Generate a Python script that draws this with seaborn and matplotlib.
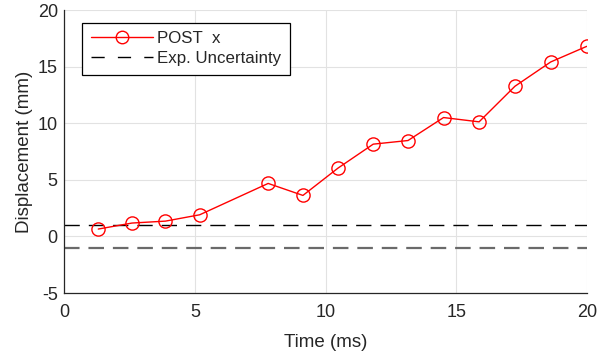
import matplotlib
matplotlib.use("Agg")
import matplotlib.pyplot as plt
from matplotlib.lines import Line2D
import seaborn as sns
import pandas as pd

# Measured displacement over time
time_ms = [1.30, 2.59, 3.87, 5.18, 7.80, 9.13, 10.47, 11.82, 13.15, 14.51, 15.87, 17.24, 18.61, 19.99]
disp_mm = [0.65, 1.18, 1.35, 1.91, 4.68, 3.62, 6.03, 8.15, 8.47, 10.50, 10.12, 13.26, 15.41, 16.79]
uncertainty = 1.0

x_ticks = [0, 5, 10, 15, 20]
y_ticks = [-5, 0, 5, 10, 15, 20]

df = pd.DataFrame({"Time (ms)": time_ms, "Displacement (mm)": disp_mm})

sns.set_theme(style="whitegrid")
plt.rcParams["font.family"] = ["Liberation Sans", "DejaVu Sans"]

fig = plt.figure(figsize=(6.09, 3.60), dpi=100)
ax = fig.add_axes([0.1056, 0.1861, 0.8583, 0.7861])

sns.lineplot(data=df, x="Time (ms)", y="Displacement (mm)", ax=ax,
             color="#ff0000", linewidth=1.0, marker="o", markersize=9.5,
             markerfacecolor="none", markeredgecolor="#ff0000",
             markeredgewidth=1.0, legend=False)

ax.axhline(uncertainty, color="black", linewidth=1.0, dashes=(11, 6.5), zorder=1)
ax.axhline(-uncertainty, color="#6a6a6a", linewidth=1.6, dashes=(7, 4),
           dash_capstyle="butt", zorder=1)

ax.set_xlim(0, 20)
ax.set_ylim(-5, 20)
ax.set_xticks(x_ticks)
ax.set_yticks(y_ticks)
ax.set_xticklabels([str(v) for v in x_ticks])
ax.set_yticklabels([str(v) for v in y_ticks])

ax.grid(True, color="#e2e2e2", linewidth=0.8)
ax.set_axisbelow(True)
ax.set_facecolor("white")
for side in ("top", "right"):
    ax.spines[side].set_visible(False)
for side in ("left", "bottom"):
    ax.spines[side].set_visible(True)
    ax.spines[side].set_color("#262626")
    ax.spines[side].set_linewidth(0.9)

ax.tick_params(axis="both", direction="in", length=5, width=0.8,
               color="#262626", labelsize=13, labelcolor="#262626")
ax.tick_params(axis="x", pad=8)
ax.tick_params(axis="y", pad=4.7)
ax.set_xlabel("Time (ms)", fontsize=13.5, color="#262626", labelpad=9)
ax.set_ylabel("Displacement (mm)", fontsize=13.5, color="#262626", labelpad=3.4)

# Legend entries: data series and the uncertainty band
handles = [
    Line2D([], [], color="#ff0000", linewidth=1.0, marker="o", markersize=9,
           markerfacecolor="none", markeredgecolor="#ff0000", markeredgewidth=1.0),
    Line2D([], [], color="black", linewidth=1.0, dashes=(9.5, 9.5)),
]
labels = ["POST  x", "Exp. Uncertainty"]
leg = ax.legend(handles, labels, loc="upper left", bbox_to_anchor=(0.034, 0.955),
                fontsize=12.2, frameon=True, fancybox=False, framealpha=1,
                edgecolor="black", handlelength=3.7, borderaxespad=0,
                borderpad=0.5, labelspacing=0.3, handletextpad=0.25)
leg.get_frame().set_linewidth(0.9)

fig.savefig("out.png", dpi=100)
